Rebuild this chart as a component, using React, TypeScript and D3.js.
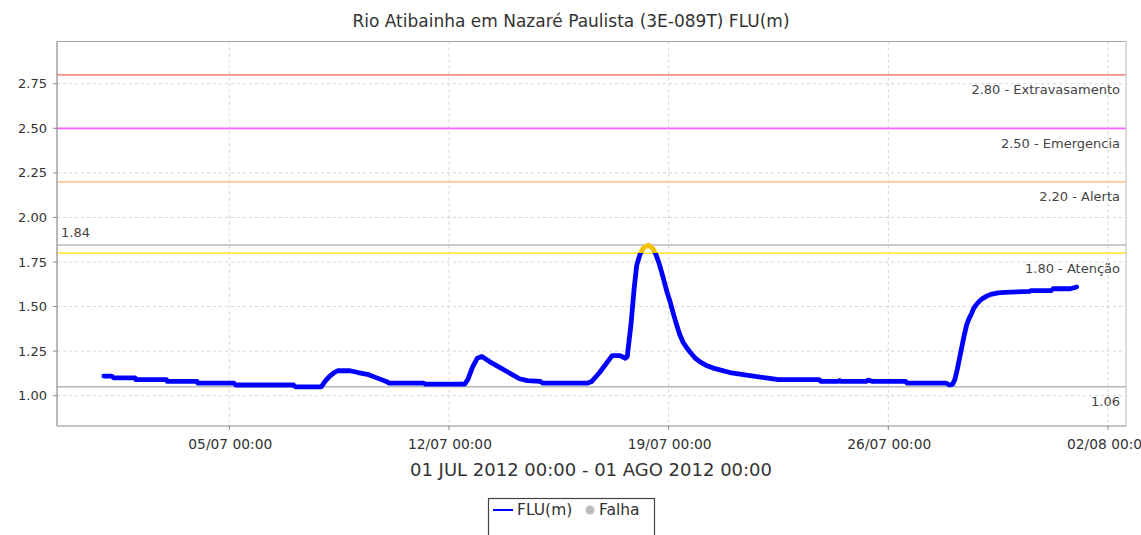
import React from "react";
import * as d3 from "d3";

const TITLE = "Rio Atibainha em Nazaré Paulista (3E-089T) FLU(m)";
const X_LABEL = "01 JUL 2012 00:00 - 01 AGO 2012 00:00";

// day offset from 01/07/2012 00:00, level (m)
const DAYS = [
  0, 0.25, 0.32, 1.0, 1.02, 2.0, 2.02, 2.97, 3.0, 4.15, 4.2, 6.05, 6.1, 6.93, 7.05, 7.2, 7.35, 7.45, 7.85, 8.1,
  8.4, 8.7, 9.0, 9.1, 10.2, 10.25, 11.5, 11.6, 11.75, 11.9, 12.05, 12.3, 12.6, 12.9, 13.25, 13.5, 13.9, 14.0, 15.4,
  15.55, 15.8, 16.05, 16.2, 16.45, 16.62, 16.68, 16.8, 16.9, 16.98, 17.08, 17.2, 17.35, 17.5, 17.6, 17.7, 17.83,
  17.95, 18.04, 18.15, 18.25, 18.35, 18.46, 18.57, 18.68, 18.85, 19.0, 19.2, 19.42, 19.95, 20.48, 21.1, 21.5, 22.8,
  22.85, 23.4, 23.45, 23.5, 24.3, 24.35, 24.5, 25.55, 25.6, 26.85, 26.95, 27.05, 27.12, 27.2, 27.28, 27.35, 27.42,
  27.5, 27.58, 27.65, 27.72, 27.8, 27.9, 28.0, 28.15, 28.3, 28.5, 28.7, 29.5, 29.55, 30.2, 30.25, 30.8, 31.0,
];
const LEVELS = [
  1.11, 1.11, 1.1, 1.1, 1.09, 1.09, 1.08, 1.08, 1.07, 1.07, 1.06, 1.06, 1.05, 1.05, 1.08, 1.11, 1.13, 1.14, 1.14, 1.13,
  1.12, 1.1, 1.08, 1.07, 1.07, 1.065, 1.065, 1.09, 1.16, 1.21, 1.22, 1.19, 1.16, 1.13, 1.095, 1.085, 1.08, 1.07, 1.07,
  1.08, 1.13, 1.19, 1.225, 1.225, 1.21, 1.22, 1.4, 1.6, 1.73, 1.79, 1.83, 1.845, 1.825, 1.79, 1.74, 1.66,
  1.58, 1.53, 1.46, 1.4, 1.345, 1.3, 1.27, 1.245, 1.21, 1.19, 1.17, 1.155, 1.13, 1.115, 1.1, 1.09, 1.09,
  1.08, 1.08, 1.085, 1.08, 1.08, 1.087, 1.08, 1.08, 1.07, 1.07, 1.06, 1.065, 1.09, 1.15, 1.22, 1.28, 1.34,
  1.4, 1.435, 1.46, 1.49, 1.51, 1.53, 1.545, 1.56, 1.57, 1.577, 1.58, 1.585, 1.59, 1.59, 1.6, 1.6, 1.61,
];

const Y_TICKS = [1.0, 1.25, 1.5, 1.75, 2.0, 2.25, 2.5, 2.75];
const X_TICKS = ["2012-07-05", "2012-07-12", "2012-07-19", "2012-07-26", "2012-08-02"];

const THRESH_VALUES = [2.8, 2.5, 2.2, 1.8];
const THRESH_LABELS = ["2.80 - Extravasamento", "2.50 - Emergencia", "2.20 - Alerta", "1.80 - Atenção"];
const THRESH_COLORS = ["#ff8f8f", "#ff5cff", "#ffc49a", "#ffe94a"];

const MAX_VALUE = 1.845;
const MAX_LABEL = "1.84";
const MIN_VALUE = 1.05;
const MIN_LABEL = "1.06";

const LEGEND = ["FLU(m)", "Falha"];

const FONT = "'DejaVu Sans', sans-serif";
const W = 1141;
const H = 535;
const L = 57, R = 1126, T = 41.5, B = 426;

const base = new Date(2012, 6, 1, 0, 0, 0);
const dayMs = 86400000;
const toDate = (d: number) => new Date(base.getTime() + d * dayMs);
const parseTick = (s: string) => {
  const [y, m, d] = s.split("-").map(Number);
  return new Date(y, m - 1, d, 0, 0, 0);
};

export default function App() {
  const x = d3.scaleTime().domain([toDate(-1.491), toDate(32.574)]).range([L, R]);
  const y = d3.scaleLinear().domain([0.83, 2.987]).range([B, T]);
  const data = DAYS.map((d, i) => ({ t: toDate(d), v: LEVELS[i] }));
  const line = d3
    .line<{ t: Date; v: number }>()
    .x((p) => x(p.t))
    .y((p) => y(p.v));
  const path = line(data) || "";
  const fmt = d3.timeFormat("%d/%m %H:%M");
  const yFmt = d3.format(".2f");
  const attY = y(1.8);

  return (
    <svg width={W} height={H} style={{ position: "absolute", left: 0, top: 0, background: "#fff" }} fontFamily={FONT}>
      <defs>
        <clipPath id="below">
          <rect x={0} y={attY} width={W} height={H} />
        </clipPath>
        <clipPath id="above">
          <rect x={0} y={0} width={W} height={attY} />
        </clipPath>
      </defs>
      <rect x={0} y={0} width={W} height={H} fill="#fff" />
      <text x={571} y={27} textAnchor="middle" fontSize={17} fill="#333">
        {TITLE}
      </text>

      {/* grid */}
      {Y_TICKS.map((v) => (
        <line key={"gy" + v} x1={L} x2={R} y1={y(v)} y2={y(v)} stroke="#d4d4d4" strokeDasharray="3,3" />
      ))}
      {X_TICKS.map((s) => (
        <line key={"gx" + s} x1={x(parseTick(s))} x2={x(parseTick(s))} y1={T} y2={B} stroke="#d4d4d4" strokeDasharray="3,3" />
      ))}

      {/* thresholds */}
      {THRESH_VALUES.map((v, i) => (
        <g key={"th" + v}>
          <line x1={L} x2={R} y1={y(v)} y2={y(v)} stroke={THRESH_COLORS[i]} strokeWidth={1.8} />
          <text x={1120} y={y(v) + 15} textAnchor="end" dominantBaseline="central" fontSize={13} fill="#444">
            {THRESH_LABELS[i]}
          </text>
        </g>
      ))}
      <line x1={L} x2={R} y1={y(MAX_VALUE)} y2={y(MAX_VALUE)} stroke="#b8b8b8" strokeWidth={1.5} />
      <text x={61} y={y(MAX_VALUE) - 13} dominantBaseline="central" fontSize={13} fill="#444">
        {MAX_LABEL}
      </text>
      <line x1={L} x2={R} y1={y(MIN_VALUE)} y2={y(MIN_VALUE)} stroke="#b8b8b8" strokeWidth={1.5} />
      <text x={1120} y={y(MIN_VALUE) + 15} textAnchor="end" dominantBaseline="central" fontSize={13} fill="#444">
        {MIN_LABEL}
      </text>

      {/* series */}
      <path d={path} fill="none" stroke="#0000ff" strokeWidth={4.8} strokeLinejoin="round" strokeLinecap="round" clipPath="url(#below)" />
      <path d={path} fill="none" stroke="#f2c200" strokeWidth={4.8} strokeLinejoin="round" strokeLinecap="round" clipPath="url(#above)" />

      {/* frame */}
      <line x1={L} x2={R} y1={T} y2={T} stroke="#a8a8a8" />
      <line x1={R} x2={R} y1={T} y2={B} stroke="#b8b8b8" />
      <line x1={L} x2={L} y1={T} y2={B} stroke="#8a8a8a" strokeWidth={1.2} />
      <line x1={L} x2={R} y1={B} y2={B} stroke="#8a8a8a" strokeWidth={1.2} />

      {/* y axis */}
      {Y_TICKS.map((v) => (
        <g key={"yt" + v}>
          <line x1={L - 4} x2={L} y1={y(v)} y2={y(v)} stroke="#8a8a8a" />
          <text x={47} y={y(v)} textAnchor="end" dominantBaseline="central" fontSize={13} fill="#333">
            {yFmt(v)}
          </text>
        </g>
      ))}

      {/* x axis */}
      {X_TICKS.map((s) => {
        const d = parseTick(s);
        const xx = x(d);
        return (
          <g key={"xt" + s}>
            <line x1={xx} x2={xx} y1={B} y2={B + 4} stroke="#8a8a8a" />
            <text x={xx + 1} y={444} textAnchor="middle" dominantBaseline="central" fontSize={13.8} fill="#333">
              {fmt(d)}
            </text>
          </g>
        );
      })}
      <text x={591} y={469} textAnchor="middle" dominantBaseline="central" fontSize={18} fill="#333">
        {X_LABEL}
      </text>

      {/* legend */}
      <rect x={488.5} y={498.5} width={166} height={50} fill="#fff" stroke="#444" strokeWidth={1.2} />
      <line x1={493} x2={513} y1={510} y2={510} stroke="#0000ff" strokeWidth={2} />
      <text x={517} y={510} dominantBaseline="central" fontSize={15.5} fill="#333">
        {LEGEND[0]}
      </text>
      <circle cx={590} cy={510} r={4.5} fill="#bdbdbd" />
      <text x={599} y={510} dominantBaseline="central" fontSize={15.5} fill="#333">
        {LEGEND[1]}
      </text>
    </svg>
  );
}
